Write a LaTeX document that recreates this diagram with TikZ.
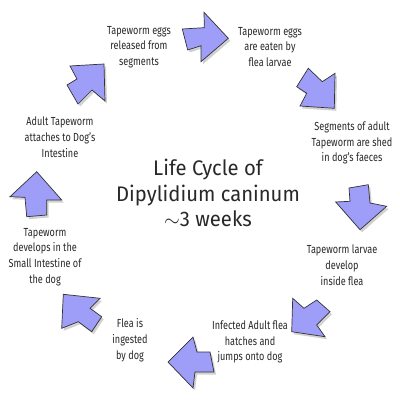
\documentclass[tikz,border=0pt]{standalone}
\usepackage{fontspec}
\setmainfont[FakeStretch=0.78]{Fira Sans}
\newfontfamily\titlefont[FakeStretch=0.96]{Fira Sans}
\definecolor{arrowfill}{RGB}{158,158,248}
\definecolor{txt}{RGB}{40,40,40}
\tikzset{
  blockarrow/.style={fill=arrowfill, draw=black!80, line width=0.5pt, line join=miter},
  arrowshadow/.style={fill=black, opacity=0.18},
  lbl/.style={align=center, text=txt, inner sep=0pt, font=\fontsize{8.3}{11.2}\selectfont},
  titlelbl/.style={align=center, text=txt, inner sep=0pt, font=\titlefont\fontsize{15}{18.3}\selectfont}
}
\newcommand{\blockarrowdraw}[1]{%
  \fill[arrowshadow, shift={(2,2.5)}] #1 -- cycle;
  \draw[blockarrow] #1 -- cycle;}
\begin{document}
\begin{tikzpicture}[x=0.025cm,y=-0.025cm]
\useasboundingbox (0,0) rectangle (400,400);
\fill[white] (0,0) rectangle (400,400);
% arrows
\blockarrowdraw{(182.3,29) -- (204.3,27.7) -- (204,12.3) -- (228.3,38.3) -- (201,61.7) -- (201,45.7) -- (187.7,50)}
\blockarrowdraw{(308.3,68.3) -- (322.3,81.7) -- (335,73.3) -- (334.3,108.3) -- (300,106) -- (306.7,93.3) -- (296.7,86.7)}
\blockarrowdraw{(349,188) -- (368.3,184.7) -- (370,203) -- (386.7,206.3) -- (360,229.7) -- (335.7,202) -- (350,201.3)}
\blockarrowdraw{(292.7,298.3) -- (304,308.3) -- (316.7,300) -- (330,311.7) -- (316.7,325) -- (325,336.7) -- (291.7,331.7)}
\blockarrowdraw{(168,362) -- (193,337) -- (197,352) -- (210,352) -- (214,372) -- (195,372) -- (193,388)}
\blockarrowdraw{(63.3,294.3) -- (100,298.3) -- (90,308.3) -- (101.7,316.7) -- (91.7,331.7) -- (78.3,321.7) -- (61.7,328.3)}
\blockarrowdraw{(36.7,171.7) -- (61.7,200) -- (46.7,200) -- (46.7,215) -- (26.7,216.7) -- (25,197.3) -- (10,196.7)}
\blockarrowdraw{(104,64) -- (105,101) -- (92,90) -- (78,104) -- (67,85) -- (77,79) -- (70,66)}
% labels
\node[lbl] (t1) at (139,47) {Tapeworm eggs\\released from\\segments};
\node[lbl] (t2) at (270,47) {Tapeworm eggs\\are eaten by\\flea larvae};
\node[lbl] (t3) at (352,143) {Segments of adult\\Tapeworm are shed\\in dog's faeces};
\node[lbl] (t4) at (342,265) {Tapeworm larvae\\develop\\inside flea};
\node[lbl] (t5) at (250,342) {Infected Adult flea\\hatches and\\jumps onto dog};
\node[lbl] (t6) at (130,340) {Flea is\\ingested\\by dog};
\node[lbl] (t7) at (45,257) {Tapeworm\\develops in the\\Small Intestine of\\the dog};
\node[lbl] (t8) at (60,137) {Adult Tapeworm\\attaches to Dog's\\Intestine};
\node[titlelbl] (title) at (208,193) {Life Cycle of\\Dipylidium caninum\\$\sim$3 weeks};
\end{tikzpicture}
\end{document}
